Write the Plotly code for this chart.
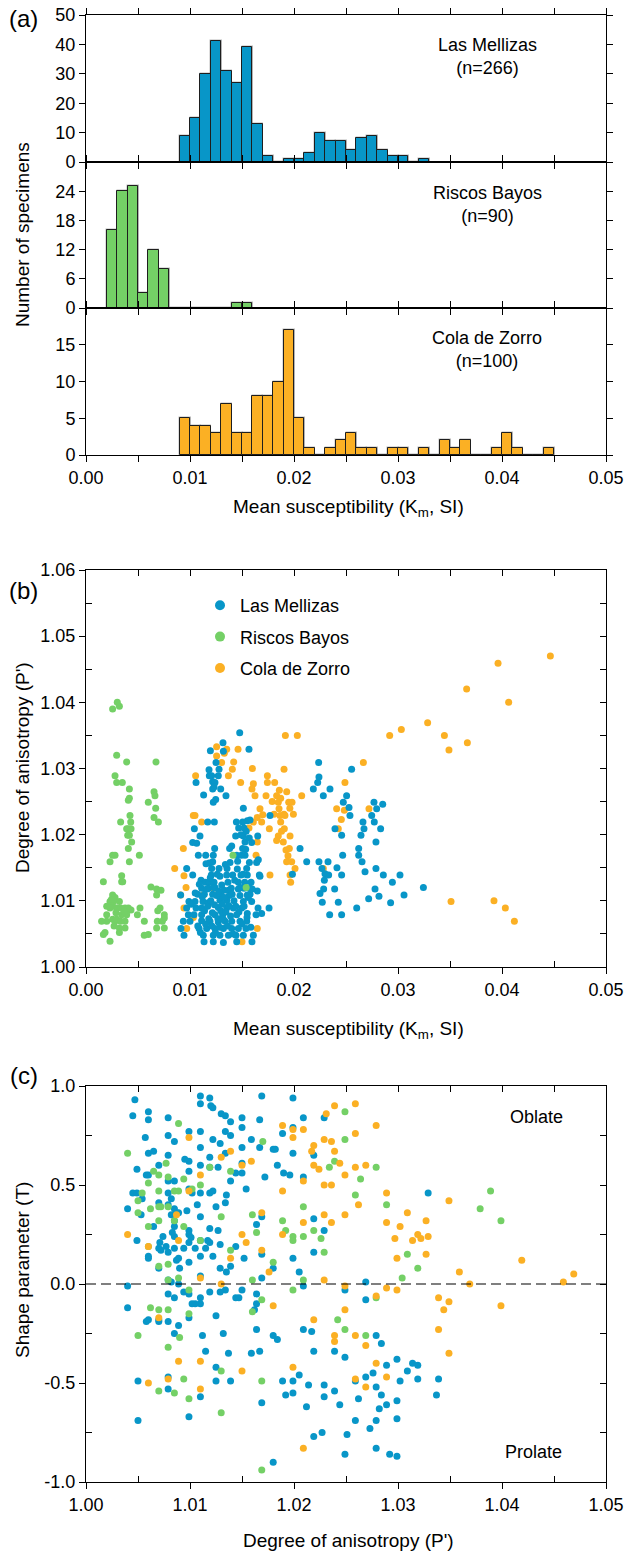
import plotly.graph_objects as go

# ---------------------------------------------------------------- data
SITES = ["Las Mellizas", "Riscos Bayos", "Cola de Zorro"]

# Histograms of mean susceptibility, 0.001 SI bins (counts start at *_FIRST_BIN)
BIN_WIDTH = 0.001
LM_FIRST_BIN = 0.009
LM_COUNTS = [9, 15, 30, 41, 31, 27, 39, 13, 2, 0, 1, 1, 3, 10, 7, 7, 4, 8, 9, 4, 2, 2, 0, 1]
RB_FIRST_BIN = 0.002
RB_COUNTS = [16, 24, 25, 3, 12, 8, 0, 0, 0, 0, 0, 0, 1, 1]
CZ_FIRST_BIN = 0.009
CZ_COUNTS = [5, 4, 4, 3, 7, 3, 3, 8, 8, 10, 17, 5, 1, 0, 1, 2, 3, 1, 1, 0, 1, 1, 0, 1,
             0, 2, 1, 2, 0, 0, 1, 3, 1, 0, 0, 1]

# Mean susceptibility Km (SI) vs degree of anisotropy P'
LM_KM_PJ = [
    (0.01478, 1.0354), (0.01317, 1.0339), (0.01196, 1.0327), (0.01321, 1.0326), (0.01567, 1.0329),
    (0.01250, 1.0309), (0.01279, 1.0299), (0.01183, 1.0298), (0.01208, 1.0289), (0.01186, 1.0289),
    (0.01272, 1.0289), (0.01218, 1.0280), (0.01240, 1.0279), (0.01058, 1.0279), (0.01231, 1.0272),
    (0.01218, 1.0269), (0.01295, 1.0269), (0.01131, 1.0260), (0.01346, 1.0259), (0.01247, 1.0253),
    (0.01224, 1.0249), (0.01513, 1.0240), (0.01769, 1.0229), (0.01577, 1.0222), (0.01551, 1.0221),
    (0.01170, 1.0219), (0.01234, 1.0219), (0.01446, 1.0219), (0.01506, 1.0219), (0.01468, 1.0210),
    (0.01519, 1.0210), (0.01042, 1.0209), (0.01096, 1.0198), (0.01439, 1.0198), (0.01513, 1.0198),
    (0.01651, 1.0198), (0.01529, 1.0189), (0.01026, 1.0188), (0.01064, 1.0187), (0.01593, 1.0188),
    (0.01237, 1.0179), (0.01401, 1.0183), (0.01381, 1.0179), (0.01506, 1.0179), (0.01449, 1.0169),
    (0.01494, 1.0169), (0.01529, 1.0169), (0.01080, 1.0169), (0.01151, 1.0169), (0.01224, 1.0169),
    (0.01571, 1.0158), (0.01641, 1.0158), (0.01657, 1.0162), (0.01218, 1.0159), (0.01186, 1.0157),
    (0.01154, 1.0156), (0.01385, 1.0158), (0.00968, 1.0149), (0.01208, 1.0149), (0.01279, 1.0149),
    (0.01356, 1.0149), (0.01455, 1.0148), (0.01545, 1.0149), (0.01026, 1.0139), (0.01205, 1.0139),
    (0.01353, 1.0139), (0.01410, 1.0139), (0.01490, 1.0139), (0.01551, 1.0139), (0.01667, 1.0139),
    (0.01106, 1.0131), (0.01288, 1.0137), (0.01147, 1.0128), (0.01186, 1.0128), (0.01231, 1.0128),
    (0.01465, 1.0128), (0.01526, 1.0128), (0.01587, 1.0128), (0.01673, 1.0137), (0.01112, 1.0119),
    (0.01176, 1.0119), (0.01240, 1.0120), (0.01465, 1.0118), (0.01397, 1.0119), (0.01519, 1.0119),
    (0.01577, 1.0119), (0.01577, 1.0110), (0.01074, 1.0110), (0.01138, 1.0110), (0.01218, 1.0110),
    (0.01327, 1.0116), (0.01369, 1.0116), (0.01295, 1.0110), (0.01378, 1.0108), (0.01481, 1.0108),
    (0.01551, 1.0109), (0.01647, 1.0115), (0.00910, 1.0109), (0.00990, 1.0099), (0.01048, 1.0099),
    (0.01125, 1.0099), (0.01176, 1.0097), (0.01288, 1.0101), (0.01353, 1.0101), (0.01423, 1.0100),
    (0.01513, 1.0099), (0.01593, 1.0099), (0.00968, 1.0089), (0.01058, 1.0089), (0.01112, 1.0089),
    (0.01272, 1.0090), (0.01353, 1.0089), (0.01417, 1.0089), (0.01497, 1.0089), (0.01654, 1.0089),
    (0.01760, 1.0089), (0.00984, 1.0079), (0.01038, 1.0079), (0.01112, 1.0079), (0.01240, 1.0079),
    (0.01314, 1.0079), (0.01449, 1.0079), (0.01551, 1.0081), (0.01635, 1.0079), (0.01689, 1.0081),
    (0.00936, 1.0069), (0.01000, 1.0069), (0.01112, 1.0070), (0.01192, 1.0069), (0.01272, 1.0068),
    (0.01337, 1.0069), (0.01401, 1.0069), (0.01481, 1.0069), (0.01545, 1.0069), (0.00913, 1.0058),
    (0.01087, 1.0058), (0.01160, 1.0058), (0.01240, 1.0058), (0.01321, 1.0058), (0.01401, 1.0058),
    (0.01465, 1.0058), (0.01538, 1.0058), (0.00942, 1.0048), (0.01128, 1.0048), (0.01224, 1.0048),
    (0.01288, 1.0048), (0.01369, 1.0048), (0.01442, 1.0048), (0.01513, 1.0048), (0.01609, 1.0048),
    (0.01135, 1.0038), (0.01224, 1.0038), (0.01321, 1.0037), (0.01596, 1.0038), (0.01449, 1.0038),
    (0.01010, 1.0095), (0.01050, 1.0112), (0.01075, 1.0062), (0.01090, 1.0125), (0.01100, 1.0052),
    (0.01118, 1.0106), (0.01140, 1.0085), (0.01150, 1.0065), (0.01165, 1.0118), (0.01170, 1.0092),
    (0.01180, 1.0073), (0.01195, 1.0135), (0.01200, 1.0100), (0.01210, 1.0062), (0.01215, 1.0082),
    (0.01225, 1.0120), (0.01235, 1.0094), (0.01245, 1.0052), (0.01255, 1.0108), (0.01262, 1.0140),
    (0.01268, 1.0073), (0.01275, 1.0115), (0.01285, 1.0060), (0.01295, 1.0085), (0.01305, 1.0124),
    (0.01310, 1.0095), (0.01320, 1.0072), (0.01332, 1.0105), (0.01340, 1.0155), (0.01345, 1.0083),
    (0.01360, 1.0062), (0.01365, 1.0128), (0.01372, 1.0093), (0.01390, 1.0077), (0.01405, 1.0110),
    (0.01415, 1.0050), (0.01430, 1.0131), (0.01440, 1.0092), (0.01458, 1.0160), (0.01470, 1.0083),
    (0.01485, 1.0120), (0.01500, 1.0065), (0.01510, 1.0140), (0.01520, 1.0092), (0.01535, 1.0178),
    (0.01548, 1.0075), (0.01560, 1.0105), (0.01570, 1.0195), (0.01585, 1.0060), (0.01598, 1.0118),
    (0.01540, 1.0205), (0.01490, 1.0200),
    (0.01985, 1.0140), (0.02058, 1.0179),
    (0.02237, 1.0309), (0.02240, 1.0287), (0.02228, 1.0279), (0.02186, 1.0269), (0.02346, 1.0269),
    (0.02282, 1.0259), (0.02554, 1.0299), (0.02506, 1.0259), (0.02474, 1.0249), (0.02529, 1.0241),
    (0.02538, 1.0229), (0.02394, 1.0209), (0.02458, 1.0199), (0.02769, 1.0249), (0.02795, 1.0239),
    (0.02853, 1.0246), (0.02747, 1.0229), (0.02772, 1.0219), (0.02663, 1.0219), (0.02673, 1.0209),
    (0.02833, 1.0209), (0.02644, 1.0199), (0.02788, 1.0189), (0.02622, 1.0179), (0.02468, 1.0169),
    (0.02622, 1.0169), (0.02654, 1.0159), (0.02122, 1.0159), (0.02240, 1.0159), (0.02327, 1.0159),
    (0.02269, 1.0149), (0.02413, 1.0150), (0.02298, 1.0141), (0.02333, 1.0139), (0.02458, 1.0139),
    (0.02683, 1.0144), (0.02788, 1.0149), (0.02859, 1.0139), (0.03019, 1.0139), (0.02292, 1.0131),
    (0.02946, 1.0128), (0.02250, 1.0111), (0.02285, 1.0118), (0.02391, 1.0118), (0.02779, 1.0118),
    (0.03244, 1.0120), (0.02272, 1.0098), (0.02426, 1.0098), (0.02718, 1.0103), (0.02817, 1.0107),
    (0.02929, 1.0097), (0.03058, 1.0109), (0.02603, 1.0089), (0.02343, 1.0079), (0.02458, 1.0079),
]

RB_KM_PJ = [
    (0.00256, 1.0390), (0.00301, 1.0400), (0.00321, 1.0394), (0.00295, 1.0320), (0.00279, 1.0289),
    (0.00295, 1.0279), (0.00349, 1.0279), (0.00391, 1.0310), (0.00417, 1.0269), (0.00407, 1.0252),
    (0.00417, 1.0255), (0.00333, 1.0219), (0.00423, 1.0229), (0.00430, 1.0219), (0.00391, 1.0209),
    (0.00407, 1.0209), (0.00433, 1.0209), (0.00417, 1.0199), (0.00401, 1.0199), (0.00439, 1.0189),
    (0.00407, 1.0179), (0.00417, 1.0159), (0.00256, 1.0169), (0.00279, 1.0169), (0.00231, 1.0159),
    (0.00167, 1.0129), (0.00343, 1.0138), (0.00343, 1.0129), (0.00353, 1.0129), (0.00513, 1.0169),
    (0.00654, 1.0265), (0.00663, 1.0259), (0.00670, 1.0240), (0.00654, 1.0226), (0.00696, 1.0219),
    (0.00673, 1.0310), (0.00599, 1.0249), (0.00679, 1.0118), (0.00721, 1.0116), (0.00679, 1.0109),
    (0.00712, 1.0089), (0.00753, 1.0079), (0.00734, 1.0069), (0.00753, 1.0074), (0.00686, 1.0069),
    (0.00679, 1.0059), (0.00753, 1.0059), (0.00256, 1.0109), (0.00279, 1.0105), (0.00321, 1.0099),
    (0.00199, 1.0092), (0.00256, 1.0092), (0.00231, 1.0089), (0.00295, 1.0089), (0.00333, 1.0089),
    (0.00375, 1.0089), (0.00407, 1.0086), (0.00433, 1.0086), (0.00519, 1.0089), (0.00494, 1.0079),
    (0.00199, 1.0079), (0.00561, 1.0069), (0.00599, 1.0049), (0.00167, 1.0049), (0.00183, 1.0052),
    (0.00231, 1.0039), (0.00256, 1.0072), (0.00279, 1.0069), (0.00295, 1.0072), (0.00333, 1.0069),
    (0.00343, 1.0079), (0.00375, 1.0069), (0.00391, 1.0079), (0.00270, 1.0062), (0.00321, 1.0059),
    (0.00321, 1.0052), (0.00199, 1.0069), (0.00407, 1.0089), (0.00375, 1.0059), (0.00263, 1.0099),
    (0.00288, 1.0082), (0.00231, 1.0099), (0.00150, 1.0069), (0.01413, 1.0169), (0.01540, 1.0120),
    (0.00245, 1.0102), (0.00367, 1.0084), (0.00625, 1.0121), (0.00690, 1.0085), (0.00560, 1.0048),
]

CZ_KM_PJ = [
    (0.01917, 1.0350), (0.02032, 1.0350), (0.01462, 1.0329), (0.01256, 1.0333), (0.01353, 1.0329),
    (0.01330, 1.0323), (0.01256, 1.0319), (0.01304, 1.0309), (0.01407, 1.0299), (0.01904, 1.0299),
    (0.01369, 1.0289), (0.01054, 1.0289), (0.01744, 1.0289), (0.01487, 1.0279), (0.01744, 1.0279),
    (0.01814, 1.0279), (0.01609, 1.0277), (0.01596, 1.0269), (0.01859, 1.0267), (0.01625, 1.0259),
    (0.01731, 1.0259), (0.01833, 1.0259), (0.01872, 1.0255), (0.01949, 1.0249), (0.01981, 1.0249),
    (0.01849, 1.0249), (0.01673, 1.0239), (0.01856, 1.0239), (0.01904, 1.0231), (0.01865, 1.0229),
    (0.01913, 1.0229), (0.01808, 1.0231), (0.01994, 1.0231), (0.01647, 1.0226), (0.01609, 1.0219),
    (0.01689, 1.0219), (0.01872, 1.0219), (0.01032, 1.0229), (0.01048, 1.0229), (0.01112, 1.0219),
    (0.01567, 1.0210), (0.01763, 1.0209), (0.01907, 1.0209), (0.01962, 1.0198), (0.01849, 1.0198),
    (0.01647, 1.0189), (0.01833, 1.0191), (0.01897, 1.0189), (0.01923, 1.0177), (0.01942, 1.0168),
    (0.01955, 1.0179), (0.01635, 1.0169), (0.01929, 1.0159), (0.01978, 1.0159), (0.02010, 1.0149),
    (0.00936, 1.0179), (0.00853, 1.0149), (0.00942, 1.0138), (0.01769, 1.0139), (0.01962, 1.0139),
    (0.01968, 1.0128), (0.00962, 1.0120), (0.01128, 1.0109), (0.00910, 1.0109), (0.01224, 1.0119),
    (0.01032, 1.0075), (0.00968, 1.0058), (0.01500, 1.0038), (0.01647, 1.0058), (0.00942, 1.0089),
    (0.04465, 1.0470), (0.03962, 1.0459), (0.03660, 1.0420), (0.04064, 1.0400), (0.03285, 1.0369),
    (0.03032, 1.0359), (0.02920, 1.0350), (0.03446, 1.0350), (0.03667, 1.0339), (0.03490, 1.0328),
    (0.02667, 1.0309), (0.02490, 1.0279), (0.02074, 1.0259), (0.02410, 1.0239), (0.02484, 1.0237),
    (0.02455, 1.0223), (0.02721, 1.0239), (0.02426, 1.0209), (0.02282, 1.0149), (0.03510, 1.0099),
    (0.03923, 1.0100), (0.04032, 1.0089), (0.04119, 1.0069), (0.01700, 1.0230), (0.01880, 1.0205),
    (0.01960, 1.0240), (0.01790, 1.0250), (0.01420, 1.0310), (0.01930, 1.0265), (0.01600, 1.0300),
]

# Degree of anisotropy P' vs shape parameter T
LM_PJ_T = [
    (1.0047, 0.93), (1.0045, 0.85), (1.0060, 0.87), (1.0060, 0.83), (1.0079, 0.84),
    (1.0057, 0.74), (1.0085, 0.72), (1.0079, 0.75), (1.0049, 0.58), (1.0060, 0.66),
    (1.0065, 0.67), (1.0070, 0.60), (1.0060, 0.55), (1.0058, 0.55), (1.0045, 0.46),
    (1.0040, 0.38), (1.0049, 0.46), (1.0054, 0.43), (1.0053, 0.35), (1.0049, 0.22),
    (1.0060, 0.14), (1.0060, 0.13), (1.0070, 0.41), (1.0079, 0.65), (1.0079, 0.52),
    (1.0079, 0.46), (1.0082, 0.43), (1.0085, 0.52), (1.0074, 0.24), (1.0071, 0.21),
    (1.0070, 0.18), (1.0072, 0.17), (1.0077, 0.19), (1.0070, 0.08), (1.0065, 0.29),
    (1.0079, 0.40), (1.0082, 0.35), (1.0085, 0.38), (1.0085, 0.32), (1.0087, 0.36),
    (1.0089, 0.36), (1.0085, 0.29), (1.0085, 0.24), (1.0085, 0.18), (1.0079, 0.16),
    (1.0087, 0.12), (1.0089, 0.13), (1.0083, 0.26), (1.0090, 0.08), (1.0094, 0.18),
    (1.0097, 0.37), (1.0099, 0.27), (1.0099, 0.25), (1.0101, 0.235), (1.0099, 0.21),
    (1.0099, 0.11), (1.0105, 0.18), (1.0110, 0.22), (1.0110, 0.14), (1.0115, 0.18),
    (1.0117, 0.22), (1.0119, 0.21), (1.0122, 0.14), (1.0127, 0.27), (1.0129, 0.20),
    (1.0129, 0.08), (1.0110, 0.34), (1.0107, 0.40), (1.0099, 0.48), (1.0102, 0.46),
    (1.0110, 0.46), (1.0119, 0.46), (1.0122, 0.47), (1.0119, 0.28), (1.0125, 0.39),
    (1.0134, 0.41), (1.0139, 0.52), (1.0135, 0.45), (1.0119, 0.59), (1.0110, 0.60),
    (1.0099, 0.62), (1.0099, 0.57), (1.0095, 0.63), (1.0110, 0.69), (1.0099, 0.77),
    (1.0110, 0.77), (1.0119, 0.64), (1.0122, 0.73), (1.0129, 0.71), (1.0134, 0.77),
    (1.0139, 0.82), (1.0139, 0.75), (1.0134, 0.66), (1.0127, 0.59), (1.0130, 0.86),
    (1.0134, 0.85), (1.0150, 0.84), (1.0150, 0.79), (1.0150, 0.69), (1.0150, 0.61),
    (1.0150, 0.56), (1.0144, 0.56), (1.0154, 0.48), (1.0159, 0.73), (1.0167, 0.69),
    (1.0167, 0.83), (1.0169, 0.95), (1.0110, 0.95), (1.0119, 0.94), (1.0110, 0.91),
    (1.0120, 0.90), (1.0122, 0.89), (1.0199, 0.94), (1.0209, 0.84), (1.0229, 0.84),
    (1.0199, 0.79), (1.0189, 0.76), (1.0180, 0.68), (1.0182, 0.68), (1.0184, 0.60),
    (1.0190, 0.56), (1.0196, 0.55), (1.0172, 0.54), (1.0199, 0.66), (1.0209, 0.54),
    (1.0219, 0.65), (1.0219, 0.33), (1.0229, 0.27), (1.0219, 0.16), (1.0164, 0.30),
    (1.0169, 0.34), (1.0169, 0.15), (1.0169, 0.03), (1.0180, 0.08), (1.0199, 0.13),
    (1.0205, 0.06), (1.0209, -0.01), (1.0152, 0.13), (1.0139, 0.09), (1.0135, 0.06),
    (1.0144, 0.19), (1.0150, -0.03), (1.0144, -0.07), (1.0134, -0.03), (1.0129, -0.04),
    (1.0119, -0.04), (1.0110, 0.04), (1.0110, -0.07), (1.0110, -0.10), (1.0105, -0.10),
    (1.0102, -0.10), (1.0099, -0.05), (1.0094, -0.04), (1.0089, 0.00), (1.0085, -0.07),
    (1.0079, -0.05), (1.0079, 0.02), (1.0082, 0.01), (1.0040, -0.01), (1.0040, -0.12),
    (1.0058, -0.19), (1.0060, -0.18), (1.0070, -0.19), (1.0070, -0.18), (1.0079, -0.19),
    (1.0085, -0.25), (1.0089, -0.21), (1.0099, -0.17), (1.0112, -0.26), (1.0115, -0.34),
    (1.0125, -0.16), (1.0132, -0.25), (1.0137, -0.35), (1.0147, -0.07), (1.0159, -0.35),
    (1.0164, -0.05), (1.0164, -0.10), (1.0164, -0.23), (1.0167, -0.34), (1.0162, -0.13),
    (1.0180, -0.26), (1.0184, -0.28), (1.0199, -0.49), (1.0189, -0.49), (1.0192, -0.56),
    (1.0199, -0.55), (1.0205, -0.46), (1.0214, -0.51), (1.0212, -0.62), (1.0209, -0.23),
    (1.0217, -0.24), (1.0219, -0.34), (1.0229, -0.51), (1.0229, -0.57), (1.0239, -0.34),
    (1.0239, -0.54), (1.0244, -0.61), (1.0249, -0.37), (1.0249, -0.03), (1.0219, -0.77),
    (1.0227, -0.75), (1.0249, -0.86), (1.0251, -0.76), (1.0180, -0.90), (1.0169, -0.60),
    (1.0125, -0.42), (1.0125, -0.49), (1.0139, -0.49), (1.0110, -0.57), (1.0099, -0.67),
    (1.0079, -0.47), (1.0079, -0.53), (1.0050, -0.49), (1.0050, -0.69),
    (1.0269, 0.01), (1.0269, -0.08), (1.0279, -0.26), (1.0284, -0.30), (1.0289, -0.41),
    (1.0299, -0.38), (1.0314, -0.40), (1.0319, -0.41), (1.0309, -0.44), (1.0319, -0.48),
    (1.0339, -0.48), (1.0337, -0.56), (1.0302, -0.49), (1.0276, -0.45), (1.0269, -0.47),
    (1.0259, -0.49), (1.0262, -0.58), (1.0279, -0.52), (1.0284, -0.56), (1.0282, -0.63),
    (1.0289, -0.61), (1.0299, -0.59), (1.0299, -0.68), (1.0279, -0.69), (1.0259, -0.69),
    (1.0273, -0.73), (1.0279, -0.83), (1.0292, -0.86), (1.0299, -0.87), (1.0329, 0.46),
]

RB_PJ_T = [
    (1.0040, 0.66), (1.0089, 0.81), (1.0050, 0.42), (1.0050, 0.36), (1.0054, 0.46),
    (1.0060, 0.51), (1.0065, 0.57), (1.0070, 0.55), (1.0070, 0.47), (1.0070, 0.39),
    (1.0072, 0.39), (1.0070, 0.32), (1.0062, 0.38), (1.0060, 0.29), (1.0060, 0.19),
    (1.0070, 0.09), (1.0077, 0.61), (1.0079, 0.54), (1.0079, 0.39), (1.0085, 0.32),
    (1.0085, 0.47), (1.0089, 0.47), (1.0079, 0.10), (1.0079, 0.02), (1.0089, 0.03),
    (1.0094, 0.53), (1.0094, 0.29), (1.0102, 0.48), (1.0110, 0.50), (1.0110, 0.22),
    (1.0119, 0.59), (1.0130, 0.34), (1.0139, 0.57), (1.0139, 0.17), (1.0170, 0.72),
    (1.0160, 0.35), (1.0164, 0.26), (1.0180, 0.11), (1.0160, 0.02), (1.0169, -0.08),
    (1.0160, -0.14), (1.0189, 0.32), (1.0192, 0.27), (1.0199, 0.24), (1.0199, 0.22),
    (1.0199, -0.03), (1.0209, 0.39), (1.0209, 0.24), (1.0209, 0.02), (1.0219, 0.27),
    (1.0226, 0.23), (1.0229, 0.16), (1.0234, 0.59), (1.0239, 0.62), (1.0249, 0.73),
    (1.0249, 0.87), (1.0242, -0.18), (1.0249, -0.23), (1.0099, -0.03), (1.0099, -0.15),
    (1.0090, -0.27), (1.0079, -0.32), (1.0062, -0.12), (1.0070, -0.13), (1.0079, -0.13),
    (1.0050, -0.26), (1.0070, -0.54), (1.0085, -0.55), (1.0094, -0.48), (1.0099, -0.58),
    (1.0130, -0.44), (1.0130, -0.65), (1.0169, -0.49), (1.0169, -0.94), (1.0264, 0.53),
    (1.0259, 0.45), (1.0279, 0.59), (1.0289, 0.40), (1.0309, 0.15), (1.0319, 0.08),
    (1.0304, 0.03), (1.0279, -0.07), (1.0269, -0.26), (1.0379, 0.38), (1.0389, 0.47),
    (1.0399, 0.32),
]

CZ_PJ_T = [
    (1.0040, 0.25), (1.0099, 0.74), (1.0110, 0.55), (1.0099, 0.47), (1.0089, 0.22),
    (1.0087, 0.35), (1.0060, 0.19), (1.0110, 0.03), (1.0130, 0.64), (1.0139, 0.67),
    (1.0150, 0.60), (1.0159, 0.62), (1.0130, 0.00), (1.0139, 0.13), (1.0150, 0.25),
    (1.0154, 0.21), (1.0169, 0.36), (1.0169, 0.17), (1.0176, 0.06), (1.0180, -0.11),
    (1.0189, 0.80), (1.0199, 0.78), (1.0209, 0.78), (1.0199, 0.74), (1.0189, 0.47),
    (1.0189, 0.25), (1.0209, 0.52), (1.0209, 0.31), (1.0219, 0.70), (1.0217, 0.67),
    (1.0219, 0.60), (1.0224, 0.58), (1.0229, 0.73), (1.0229, 0.50), (1.0236, 0.50),
    (1.0236, 0.72), (1.0239, 0.67), (1.0244, 0.61), (1.0249, 0.55), (1.0249, 0.35),
    (1.0229, 0.35), (1.0236, 0.31), (1.0229, 0.02), (1.0249, -0.01), (1.0249, -0.13),
    (1.0219, -0.18), (1.0239, -0.26), (1.0239, -0.29), (1.0199, -0.42), (1.0209, -0.83),
    (1.0150, -0.44), (1.0110, -0.39), (1.0110, -0.53), (1.0089, -0.39), (1.0079, -0.48),
    (1.0070, -0.17), (1.0060, -0.50), (1.0231, 0.86), (1.0239, 0.90),
    (1.0259, 0.91), (1.0259, 0.76), (1.0279, 0.80), (1.0259, 0.59), (1.0269, 0.60),
    (1.0262, 0.40), (1.0289, 0.46), (1.0289, 0.31), (1.0309, 0.36), (1.0302, 0.29),
    (1.0297, 0.23), (1.0299, 0.13), (1.0314, 0.22), (1.0319, 0.25), (1.0322, 0.23),
    (1.0329, 0.24), (1.0327, 0.32), (1.0327, 0.15), (1.0349, 0.42), (1.0289, -0.02),
    (1.0299, -0.03), (1.0279, -0.06), (1.0339, -0.07), (1.0349, -0.09), (1.0344, -0.13),
    (1.0339, -0.23), (1.0349, -0.35), (1.0259, -0.26), (1.0269, -0.31), (1.0279, -0.40),
    (1.0289, -0.47), (1.0259, -0.48), (1.0269, -0.52), (1.0359, 0.06), (1.0369, 0.00),
    (1.0399, -0.11), (1.0419, 0.12), (1.0459, 0.01), (1.0469, 0.05),
]

# ---------------------------------------------------------------- style
FONT = "Liberation Sans, Arial, Helvetica, sans-serif"
BLUE = "#0896c8"
GREEN = "#74d066"
ORANGE = "#fbb024"
EDGE = "#1e1e1e"
SHADOW = "rgba(120,120,120,0.5)"
W, H = 625, 1552
TICK_FONT = dict(family=FONT, size=18, color="black")


def fx(px):
    return px / W


def fy(py):
    return 1 - py / H


X_DOMAIN = [fx(86), fx(606)]

fig = go.Figure()


def bin_centers(first, counts):
    return [round(first + BIN_WIDTH * (i + 0.5), 5) for i in range(len(counts))]


for counts, first, color, ax in [
    (LM_COUNTS, LM_FIRST_BIN, BLUE, ""),
    (RB_COUNTS, RB_FIRST_BIN, GREEN, "2"),
    (CZ_COUNTS, CZ_FIRST_BIN, ORANGE, "3"),
]:
    xc = bin_centers(first, counts)
    # soft drop shadow behind each bar
    fig.add_trace(go.Bar(
        x=xc, y=counts, width=BIN_WIDTH, offset=-BIN_WIDTH * 0.45,
        marker=dict(color=SHADOW, line=dict(color=SHADOW, width=1.5)),
        xaxis="x" + ax, yaxis="y" + ax, showlegend=False, hoverinfo="skip",
    ))
    fig.add_trace(go.Bar(
        x=xc, y=counts, width=BIN_WIDTH,
        marker=dict(color=color, line=dict(color=EDGE, width=1)),
        xaxis="x" + ax, yaxis="y" + ax, showlegend=False, hoverinfo="x+y",
    ))

# Km vs P'
for pts, color, name in [(CZ_KM_PJ, ORANGE, SITES[2]), (LM_KM_PJ, BLUE, SITES[0]),
                         (RB_KM_PJ, GREEN, SITES[1])]:
    fig.add_trace(go.Scatter(
        x=[p[0] for p in pts], y=[p[1] for p in pts], mode="markers",
        marker=dict(color=color, size=7, line=dict(width=0)),
        xaxis="x4", yaxis="y4", showlegend=False, name=name,
    ))

# P' vs T
for pts, color, name in [(LM_PJ_T, BLUE, SITES[0]), (RB_PJ_T, GREEN, SITES[1]),
                         (CZ_PJ_T, ORANGE, SITES[2])]:
    fig.add_trace(go.Scatter(
        x=[p[0] for p in pts], y=[p[1] for p in pts], mode="markers",
        marker=dict(color=color, size=7, line=dict(width=0)),
        xaxis="x5", yaxis="y5", showlegend=False, name=name,
    ))

# legend entries
for name, color in zip(SITES, [BLUE, GREEN, ORANGE]):
    fig.add_trace(go.Scatter(
        x=[None], y=[None], mode="markers", name=name, legendgroup=name,
        marker=dict(color=color, size=10), xaxis="x4", yaxis="y4",
    ))

# empty traces holding the inner-tick frame axes of panels b and c
fig.add_trace(go.Scatter(x=[], y=[], xaxis="x6", yaxis="y6", showlegend=False))
fig.add_trace(go.Scatter(x=[], y=[], xaxis="x7", yaxis="y7", showlegend=False))


def base_axis(**kw):
    d = dict(showline=True, linecolor="black", linewidth=1, showgrid=False,
             zeroline=False, tickcolor="black", tickwidth=1, tickfont=TICK_FONT,
             ticks="outside", ticklen=6, automargin=False)
    d.update(kw)
    return d


def frame_axis(**kw):
    d = dict(showticklabels=False, ticks="inside", ticklen=6, tickcolor="black",
             showgrid=False, zeroline=False, showline=False, automargin=False)
    d.update(kw)
    return d


def inner_minor(vals):
    return dict(tickvals=vals, ticks="inside", ticklen=6, tickcolor="black", showgrid=False)


km_vals = [round(i * 0.005, 3) for i in range(11)]
km_text = [f"{v:.2f}" if i % 2 == 0 else "" for i, v in enumerate(km_vals)]
km_major = km_vals[::2]
km_minor = km_vals[1::2]

hist_x = dict(range=[0, 0.05], tickvals=km_vals, mirror="ticks", domain=X_DOMAIN)
fig.update_layout(
    barmode="overlay",
    xaxis=base_axis(**hist_x, anchor="y", showticklabels=False),
    xaxis2=base_axis(**hist_x, anchor="y2", showticklabels=False),
    xaxis3=base_axis(**hist_x, anchor="y3", ticktext=km_text),
    yaxis=base_axis(range=[0, 50], tickvals=[0, 10, 20, 30, 40, 50], mirror="ticks",
                    anchor="x", domain=[fy(162), fy(15)]),
    yaxis2=base_axis(range=[0, 30], tickvals=[0, 6, 12, 18, 24], mirror="ticks",
                     anchor="x2", domain=[fy(308), fy(162)]),
    yaxis3=base_axis(range=[0, 20], tickvals=[0, 5, 10, 15], mirror="ticks",
                     anchor="x3", domain=[fy(455), fy(308)]),
)

pj_vals = [round(1 + i * 0.005, 3) for i in range(13)]
px_vals = [round(1 + i * 0.005, 3) for i in range(11)]
t_vals = [-1, -0.75, -0.5, -0.25, 0, 0.25, 0.5, 0.75, 1]

B_DOMAIN = [fy(967), fy(570)]
C_DOMAIN = [fy(1482), fy(1086)]

fig.update_layout(
    xaxis4=base_axis(range=[0, 0.05], tickvals=km_major,
                     ticktext=[f"{v:.2f}" for v in km_major], minor=inner_minor(km_minor),
                     mirror=True, anchor="y4", domain=X_DOMAIN),
    yaxis4=base_axis(range=[1.0, 1.06], tickvals=pj_vals[::2],
                     ticktext=[f"{v:.2f}" for v in pj_vals[::2]],
                     minor=inner_minor(pj_vals[1::2]),
                     mirror=True, anchor="x4", domain=B_DOMAIN),
    xaxis5=base_axis(range=[1.0, 1.05], tickvals=px_vals[::2],
                     ticktext=[f"{v:.2f}" for v in px_vals[::2]],
                     minor=inner_minor(px_vals[1::2]),
                     mirror=True, anchor="y5", domain=X_DOMAIN),
    yaxis5=base_axis(range=[-1, 1], tickvals=t_vals[::2],
                     ticktext=[f"{v:.1f}" for v in t_vals[::2]],
                     minor=inner_minor(t_vals[1::2]),
                     mirror=True, anchor="x5", domain=C_DOMAIN),
    xaxis6=frame_axis(range=[0, 0.05], tickvals=km_vals, side="top", overlaying="x4",
                      anchor="y4"),
    yaxis6=frame_axis(range=[1.0, 1.06], tickvals=pj_vals, side="right", overlaying="y4",
                      anchor="x4"),
    xaxis7=frame_axis(range=[1.0, 1.05], tickvals=px_vals, side="top", overlaying="x5",
                      anchor="y5"),
    yaxis7=frame_axis(range=[-1, 1], tickvals=t_vals, side="right", overlaying="y5",
                      anchor="x5"),
)

# zero line for shape parameter
fig.add_shape(type="line", xref="x5 domain", x0=0, x1=1, yref="y5", y0=0, y1=0,
              line=dict(color="black", width=1.2, dash="10px,5px"))

ann = []


def text(s, x, y, size=18, angle=0):
    ann.append(dict(text=s, x=fx(x), y=fy(y), xref="paper", yref="paper",
                    showarrow=False, textangle=angle, xanchor="center", yanchor="middle",
                    font=dict(family=FONT, size=size, color="black")))


text("(a)", 24, 19, size=24)
text("(b)", 24, 590, size=24)
text("(c)", 24, 1075, size=24)
for site, counts, yc in [(SITES[0], LM_COUNTS, 57), (SITES[1], RB_COUNTS, 205),
                         (SITES[2], CZ_COUNTS, 350)]:
    text(f"{site}<br>(n={sum(counts)})", 487, yc)
text("Number of specimens", 22, 235, size=19, angle=-90)
text("Degree of anisotropy (P')", 22, 768, size=19, angle=-90)
text("Shape parameter (T)", 22, 1270, size=19, angle=-90)
xt = "Mean susceptibility (K<sub>m</sub>, SI)"
text(xt, 348, 508, size=19)
text(xt, 348, 1030, size=19)
text("Degree of anisotropy (P')", 348, 1540, size=19)
text("Oblate", 536, 1117)
text("Prolate", 533, 1452)

fig.update_layout(
    width=W, height=H, margin=dict(l=0, r=0, t=0, b=0),
    paper_bgcolor="white", plot_bgcolor="white",
    annotations=ann, bargap=0,
    font=dict(family=FONT, color="black"),
    legend=dict(x=fx(200), y=fy(587), xanchor="left", yanchor="top",
                font=dict(family=FONT, size=18, color="black"),
                bgcolor="rgba(0,0,0,0)", tracegroupgap=5, itemsizing="trace"),
)

fig.write_html("out.html")
